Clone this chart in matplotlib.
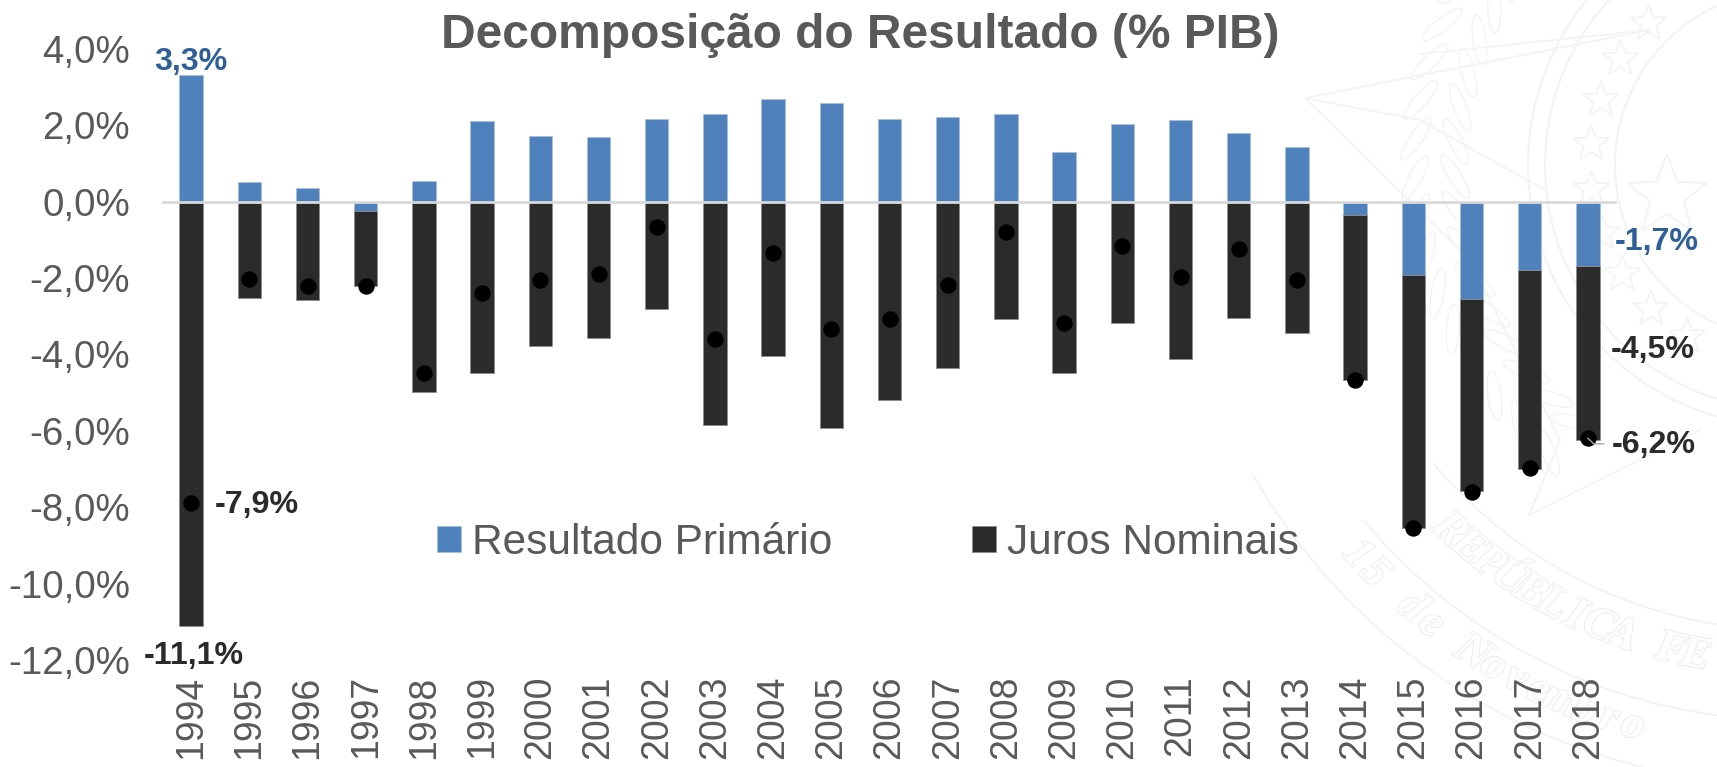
import matplotlib
matplotlib.use('Agg')
import matplotlib.pyplot as plt
import matplotlib.patheffects as pe
from matplotlib.patches import Circle, Ellipse, Polygon
import numpy as np

plt.rcParams['font.family'] = ['Liberation Sans', 'DejaVu Sans']

W, H = 1717, 767

years = [str(y) for y in range(1994, 2019)]

primario = [3.30, 0.50, 0.35, -0.25, 0.53, 2.10, 1.72, 1.68, 2.16, 2.28, 2.68, 2.58, 2.15,
            2.20, 2.30, 1.29, 2.03, 2.13, 1.80, 1.43, -0.35, -1.93, -2.54, -1.79, -1.68]
juros = [-11.10, -2.53, -2.58, -1.97, -4.98, -4.48, -3.78, -3.57, -2.81, -5.84, -4.04, -5.92, -5.20,
         -4.36, -3.08, -4.48, -3.19, -4.11, -3.05, -3.45, -4.31, -6.62, -5.04, -5.21, -4.55]
nominal = [-7.90, -2.02, -2.22, -2.22, -4.48, -2.39, -2.06, -1.90, -0.66, -3.60, -1.36, -3.34, -3.07,
           -2.18, -0.79, -3.19, -1.16, -1.98, -1.25, -2.05, -4.66, -8.55, -7.60, -6.97, -6.20]

yticks = [4, 2, 0, -2, -4, -6, -8, -10, -12]
ylabels = ['4,0%', '2,0%', '0,0%', '-2,0%', '-4,0%', '-6,0%', '-8,0%', '-10,0%', '-12,0%']

AZUL = '#4f81bd'
ESCURO = '#2b2b2b'
CINZA = '#595959'
AZUL_TXT = '#2f5f98'
MARCA = '#f3f3f3'

fig = plt.figure(figsize=(W/100, H/100), dpi=100)

# watermark (coat of arms), drawn in pixel coords behind the chart
bg = fig.add_axes([0, 0, 1, 1], zorder=0)
bg.set_xlim(0, W)
bg.set_ylim(H, 0)
bg.axis('off')
cx, cy = 1790, 165


def estrela(x0, y0, r):
    ang = np.deg2rad(np.arange(0, 360, 36) - 90)
    raio = np.where(np.arange(10) % 2 == 0, r, r*0.42)
    pts = np.c_[x0 + raio*np.cos(ang), y0 + raio*np.sin(ang)]
    bg.add_patch(Polygon(pts, closed=True, fill=False, ec=MARCA, lw=1.3))


for r in [175, 245, 262]:
    bg.add_patch(Circle((cx, cy), r, fill=False, ec=MARCA, lw=1.5))
for t in [225, 212, 199, 186, 173, 160, 147, 134, 121]:
    estrela(cx + 200*np.cos(np.deg2rad(t)), cy + 200*np.sin(np.deg2rad(t)), 19)
estrela(1667, 196, 42)

# big star points behind the wreath
bg.plot([1420, 1650, 1305, 1470, 1560, 1529, 1700], [54, 30, 98, 260, 440, 515, 430], color=MARCA, lw=1.3)
bg.plot([1305, 1420, 1545], [98, 120, 190], color=MARCA, lw=1.3)

# wreath leaves
for t in np.arange(130, 222, 6):
    rad = np.deg2rad(t)
    for r, d in [(335, 60), (375, 120)]:
        bg.add_patch(Ellipse((cx + r*np.cos(rad), cy + r*np.sin(rad)), 50, 13, angle=t + d,
                             fill=False, ec=MARCA, lw=1))

# ribbon
for r, t0, t1 in [(620, 150, 88), (555, 140, 88), (465, 140, 88)]:
    tt = np.deg2rad(np.linspace(t0, t1, 60))
    bg.plot(cx + r*np.cos(tt), cy + r*np.sin(tt), color=MARCA, lw=1.4)


def arco(txt, r, t0, dt):
    for i, c in enumerate(txt):
        t = t0 - i*dt
        rad = np.deg2rad(t)
        bg.text(cx + r*np.cos(rad), cy + r*np.sin(rad), c, rotation=90 - t, rotation_mode='anchor',
                ha='center', va='center', fontsize=33, fontweight='bold', fontstyle='italic',
                family='Liberation Serif', color='white',
                path_effects=[pe.withStroke(linewidth=1.4, foreground='#ececec')], clip_on=True)


arco('15 de Novembro', 583, 138, 2.49)
arco('REPÚBLICA FE', 500, 133, 2.92)

ax = fig.add_axes([162/W, 1-660/H, (1617-162)/W, (660-48.7)/H], zorder=1)
ax.patch.set_alpha(0)

x = np.arange(len(years))
base_juros = [min(p, 0) for p in primario]
ax.bar(x, primario, width=0.4, color=AZUL, edgecolor='#a9c0dc', linewidth=0.6, label='Resultado Primário', zorder=2)
ax.bar(x, juros, bottom=base_juros, width=0.4, color=ESCURO, edgecolor='#8c8c8c', linewidth=0.6, label='Juros Nominais', zorder=2)
ax.plot(x, nominal, 'o', color='black', ms=11.8, mew=0, zorder=3, clip_on=False)
ax.axhline(0, color='#d9d9d9', lw=2, zorder=3)
ax.plot([24, 24.1, 24.27], [-6.2, -6.34, -6.34], color='#a6a6a6', lw=1, zorder=4)

ax.set_xlim(-0.5, 24.5)
ax.set_ylim(-12, 4)
for s in ax.spines.values():
    s.set_visible(False)
ax.set_yticks(yticks)
ax.set_yticklabels(ylabels, fontsize=27.7, color=CINZA)
ax.set_xticks(x)
ax.set_xticklabels(years, rotation=90, fontsize=27, color=CINZA)
ax.tick_params(length=0)
ax.tick_params(axis='x', pad=11)
ax.tick_params(axis='y', pad=23)

fig.text(860/W, 1-35/H, 'Decomposição do Resultado (% PIB)', fontsize=34.5, fontweight='bold',
         color=CINZA, ha='center', va='center', zorder=5)

rotulos = [(0, 3.3, '3,3%', AZUL_TXT, 0, 0.34),
           (0, -7.9, '-7,9%', ESCURO, 1.13, -0.03),
           (0, -11.1, '-11,1%', ESCURO, 0.04, -0.8),
           (24, -1.7, '-1,7%', AZUL_TXT, 1.19, 0.65),
           (24, -4.5, '-4,5%', ESCURO, 1.12, 0.62),
           (24, -6.2, '-6,2%', ESCURO, 1.13, -0.18)]
for i, v, t, c, dx, dy in rotulos:
    ax.text(i+dx, v+dy, t, fontsize=23.2, fontweight='bold', color=c, ha='center', va='center', clip_on=False)

leg = ax.legend(loc='center', bbox_to_anchor=(868/W, 1-543/H), bbox_transform=fig.transFigure,
                ncol=2, frameon=False, fontsize=30.5, labelcolor=CINZA, handlelength=0.57, handleheight=0.57,
                handletextpad=0.26, columnspacing=3.3)

fig.savefig('out.png', dpi=100)
